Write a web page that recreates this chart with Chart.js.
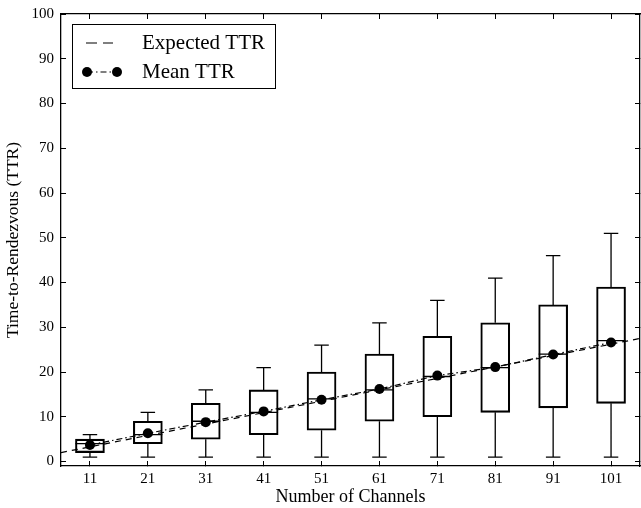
<!DOCTYPE html>
<html>
<head>
<meta charset="utf-8">
<script src="https://cdn.jsdelivr.net/npm/chart.js@4.4.1/dist/chart.umd.min.js"></script>
<style>
  body { margin: 0; background: #fff; }
  #wrap { width: 641px; height: 508px; }
</style>
</head>
<body>
<div id="wrap"><canvas id="grafica" width="641" height="508"></canvas></div>
<script>
// datos
const channels = [11, 21, 31, 41, 51, 61, 71, 81, 91, 101];
const whiskerLow = [1, 1, 1, 1, 1, 1, 1, 1, 1, 1];
const q1 = [2, 4, 5, 6, 7, 9, 10, 11, 12, 13];
const medians = [4, 6, 9, 11, 14, 16, 19, 21, 24, 27];
const q3 = [5, 9, 13, 16, 20, 24, 28, 31, 35, 39];
const whiskerHigh = [6, 11, 16, 21, 26, 31, 36, 41, 46, 51];
const meanTTR = [3.7, 6.3, 8.8, 11.2, 13.8, 16.2, 19.2, 21.1, 23.9, 26.6];
const expectedX = [6, 106];
const expectedTTR = [2.0, 27.5];
const yTicks = [0, 10, 20, 30, 40, 50, 60, 70, 80, 90, 100];

const FONT = '"Liberation Serif", "DejaVu Serif", serif';
const BOX_HALF = 2.5;
const CAP_HALF = 1.25;

// segmentos de medianas y bigotes (null corta la linea)
const medianSegs = [];
const whiskerSegs = [];
channels.forEach((c, i) => {
  medianSegs.push({x: c - BOX_HALF, y: medians[i]}, {x: c + BOX_HALF, y: medians[i]}, {x: c, y: null});
  whiskerSegs.push({x: c, y: q3[i]}, {x: c, y: whiskerHigh[i]}, {x: c, y: null});
  whiskerSegs.push({x: c - CAP_HALF, y: whiskerHigh[i]}, {x: c + CAP_HALF, y: whiskerHigh[i]}, {x: c, y: null});
  whiskerSegs.push({x: c, y: q1[i]}, {x: c, y: whiskerLow[i]}, {x: c, y: null});
  whiskerSegs.push({x: c - CAP_HALF, y: whiskerLow[i]}, {x: c + CAP_HALF, y: whiskerLow[i]}, {x: c, y: null});
});

const setXTicks = axis => { axis.ticks = channels.map(v => ({value: v})); };
const setYTicks = axis => { axis.ticks = yTicks.map(v => ({value: v})); };
// tamanos fijos de los ejes para que el area del grafico quede como en la imagen
const fixSize = (w, h) => axis => {
  if (w !== null) axis.width = w;
  if (h !== null) axis.height = h;
  axis.paddingTop = 0; axis.paddingBottom = 0;
  axis.paddingLeft = 0; axis.paddingRight = 0;
};

// leyenda dibujada a mano para imitar las muestras de linea
const legendPlugin = {
  id: 'ttrLegend',
  afterDraw(chart) {
    const ctx = chart.ctx;
    const a = chart.chartArea;
    const x0 = a.left + 11, y0 = a.top + 10, w = 203, h = 64;
    ctx.save();
    ctx.fillStyle = '#fff';
    ctx.fillRect(x0, y0, w, h);
    ctx.strokeStyle = '#000';
    ctx.lineWidth = 1;
    ctx.strokeRect(x0 + 0.5, y0 + 0.5, w, h);

    const r1 = y0 + 19, r2 = y0 + 48;
    ctx.strokeStyle = '#555';
    ctx.lineWidth = 1.3;
    ctx.setLineDash([11, 6]);
    ctx.beginPath();
    ctx.moveTo(x0 + 14, r1);
    ctx.lineTo(x0 + 41, r1);
    ctx.stroke();

    ctx.strokeStyle = '#000';
    ctx.lineWidth = 1.2;
    ctx.setLineDash([6, 3, 1.5, 3]);
    ctx.beginPath();
    ctx.moveTo(x0 + 15, r2);
    ctx.lineTo(x0 + 45, r2);
    ctx.stroke();
    ctx.setLineDash([]);
    ctx.fillStyle = '#000';
    [x0 + 15, x0 + 45].forEach(px => {
      ctx.beginPath();
      ctx.arc(px, r2, 5, 0, Math.PI * 2);
      ctx.fill();
    });

    ctx.font = '21px ' + FONT;
    ctx.textBaseline = 'middle';
    ctx.fillText('Expected TTR', x0 + 70, r1);
    ctx.fillText('Mean TTR', x0 + 70, r2);
    ctx.restore();
  }
};

const ctx = document.getElementById('grafica').getContext('2d');
const miGrafica = new Chart(ctx, {
  type: 'bar',
  data: {
    datasets: [
      {
        type: 'bar',
        label: 'box',
        data: channels.map((c, i) => ({x: c, y: [q1[i], q3[i]]})),
        backgroundColor: 'rgba(255,255,255,0)',
        borderColor: '#000',
        borderWidth: 1.4,
        borderSkipped: false,
        barThickness: 29,
        order: 5
      },
      {
        type: 'line',
        label: 'whiskers',
        data: whiskerSegs,
        borderColor: '#000',
        borderWidth: 1.3,
        pointRadius: 0,
        spanGaps: false,
        order: 4
      },
      {
        type: 'line',
        label: 'median',
        data: medianSegs,
        borderColor: '#000',
        borderWidth: 1.3,
        pointRadius: 0,
        spanGaps: false,
        order: 3
      },
      {
        type: 'line',
        label: 'Expected TTR',
        data: expectedX.map((x, i) => ({x: x, y: expectedTTR[i]})),
        borderColor: '#000',
        borderWidth: 1.2,
        borderDash: [6, 5],
        pointRadius: 0,
        order: 2
      },
      {
        type: 'line',
        label: 'Mean TTR',
        data: channels.map((c, i) => ({x: c, y: meanTTR[i]})),
        borderColor: '#000',
        borderWidth: 1.2,
        borderDash: [6, 3, 1.5, 3],
        pointRadius: 5,
        pointBackgroundColor: '#000',
        pointBorderWidth: 0,
        order: 1
      }
    ]
  },
  options: {
    responsive: false,
    animation: false,
    events: [],
    layout: { padding: 0, autoPadding: false },
    plugins: { legend: { display: false }, tooltip: { enabled: false } },
    scales: {
      x: {
        type: 'linear',
        position: 'bottom',
        offset: false,
        min: 6, max: 106,
        afterBuildTicks: setXTicks,
        afterFit: fixSize(null, 42),
        grid: { drawOnChartArea: false, color: '#000', tickLength: -5, lineWidth: 1, offset: false },
        border: { color: '#000', width: 1.3 },
        ticks: { color: '#000', font: { family: FONT, size: 15 }, padding: 9, maxRotation: 0 },
        title: { display: true, text: 'Number of Channels', color: '#000',
                 font: { family: FONT, size: 18 }, padding: { top: 0, bottom: 0 } }
      },
      x2: {
        type: 'linear',
        position: 'top',
        display: true,
        offset: false,
        min: 6, max: 106,
        afterBuildTicks: setXTicks,
        afterFit: fixSize(null, 14),
        grid: { drawOnChartArea: false, color: '#000', tickLength: -5, lineWidth: 1, offset: false },
        border: { color: '#000', width: 1.3 },
        ticks: { display: false }
      },
      y: {
        type: 'linear',
        position: 'left',
        min: -1, max: 100,
        afterBuildTicks: setYTicks,
        afterFit: fixSize(61, null),
        grid: { drawOnChartArea: false, color: '#000', tickLength: -5, lineWidth: 1 },
        border: { color: '#000', width: 1.3 },
        ticks: { color: '#000', font: { family: FONT, size: 15 }, padding: 12 },
        title: { display: true, text: 'Time-to-Rendezvous (TTR)', color: '#000',
                 font: { family: FONT, size: 17.5 }, padding: { top: 3, bottom: 0 } }
      },
      y2: {
        type: 'linear',
        position: 'right',
        display: true,
        min: -1, max: 100,
        afterBuildTicks: setYTicks,
        afterFit: fixSize(1, null),
        grid: { drawOnChartArea: false, color: '#000', tickLength: -5, lineWidth: 1 },
        border: { color: '#000', width: 1.3 },
        ticks: { display: false }
      }
    }
  },
  plugins: [legendPlugin]
});
</script>
</body>
</html>
